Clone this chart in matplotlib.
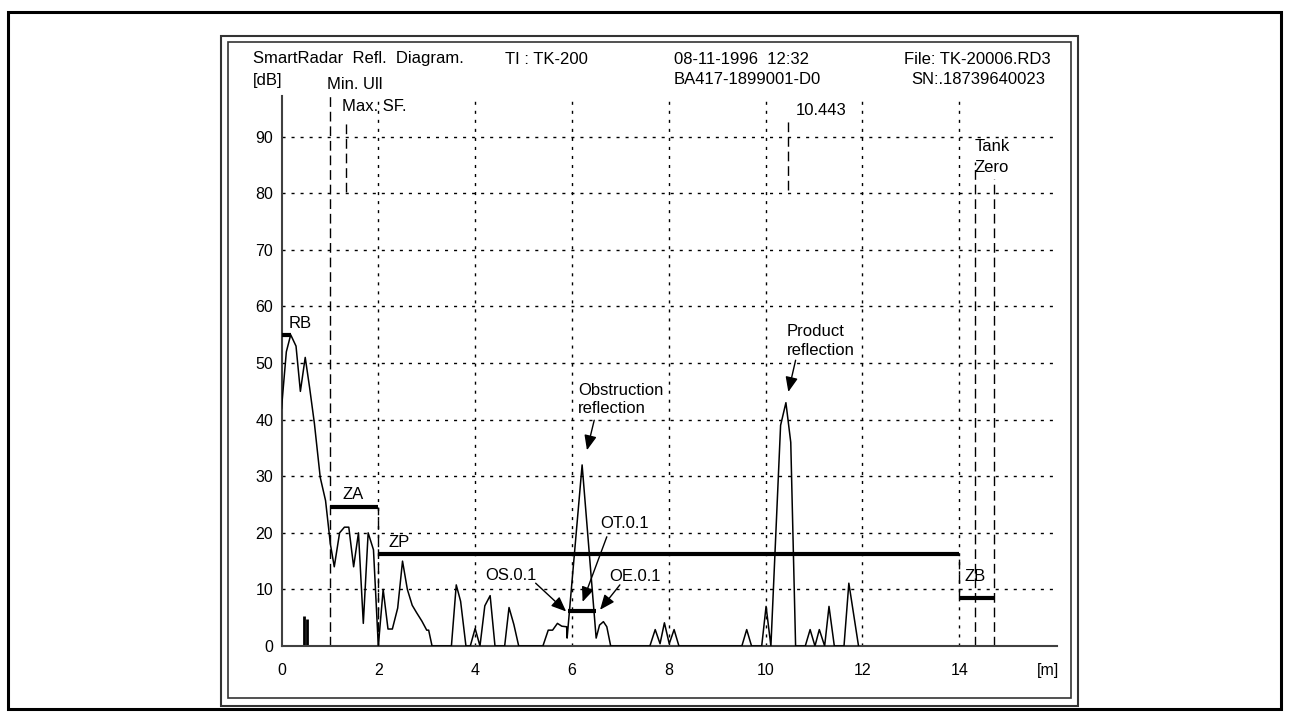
import matplotlib
matplotlib.use('Agg')
import matplotlib.pyplot as plt
from matplotlib.patches import Rectangle

plt.rcParams['font.family'] = ['Liberation Sans', 'DejaVu Sans']

# reflection curve (distance in m, level in dB)
dist = [0, 0.10, 0.19, 0.30, 0.39, 0.49, 0.58, 0.68, 0.80, 0.91, 1.01, 1.09, 1.20, 1.30,
        1.39, 1.49, 1.59, 1.69, 1.79, 1.90, 2.00, 2.10, 2.20, 2.29, 2.40, 2.50, 2.60, 2.70,
        2.79, 2.90, 3.00, 3.04, 3.11, 3.51, 3.61, 3.70, 3.81, 3.90, 4.00, 4.10, 4.20, 4.31,
        4.41, 4.61, 4.70, 4.80, 4.90, 5.40, 5.51, 5.60, 5.70, 5.79, 5.89, 5.90, 6.21, 6.50,
        6.57, 6.65, 6.72, 6.80, 7.61, 7.72, 7.82, 7.91, 8.01, 8.11, 8.21, 9.51, 9.61, 9.71,
        9.92, 10.01, 10.11, 10.31, 10.42, 10.52, 10.62, 10.82, 10.92, 11.02, 11.11, 11.22,
        11.31, 11.42, 11.62, 11.72, 11.92]
level = [42, 52, 55, 53, 45, 51, 45.7, 39.3, 29.8, 25.7, 18, 14, 20, 21,
         21, 14, 20, 4, 20, 17, 0, 10, 3, 3, 6.7, 15, 10, 7.2,
         5.9, 4.4, 2.8, 2.8, 0, 0, 10.8, 7.9, 0, 0, 3.1, 0, 7.1, 8.9,
         0, 0, 6.8, 3.8, 0, 0, 2.8, 2.8, 4.0, 3.5, 3.4, 1.4, 32, 1.4,
         3.7, 4.3, 3.4, 0, 0, 2.9, 0.4, 4.1, 0.4, 2.9, 0, 0, 2.9, 0,
         0, 7, 0, 39, 43, 36, 0, 0, 2.9, 0, 2.9, 0,
         7, 0, 0, 11.1, 0]

# zone bars: name, start, end, level
zone_names = ['RB', 'ZA', 'ZP', 'ZB', 'OT']
zone_start = [0.0, 1.0, 2.0, 14.0, 5.92]
zone_end = [0.2, 2.0, 14.0, 14.71, 6.50]
zone_level = [55, 24.5, 16.3, 8.4, 6.1]

x_ticks = [0, 2, 4, 6, 8, 10, 12, 14, 15.84]
x_labels = ['0', '2', '4', '6', '8', '10', '12', '14', '[m]']
y_ticks = [0, 10, 20, 30, 40, 50, 60, 70, 80, 90]

W, H = 1289, 720
fig = plt.figure(figsize=(W / 100, H / 100), dpi=100)

def px(x, y):
    return x / W, 1 - y / H

# frames
fig.patches.append(Rectangle((8 / W, 1 - 709 / H), 1273 / W, 697 / H, transform=fig.transFigure,
                             fill=False, lw=2.2, ec='black'))
fig.patches.append(Rectangle((221 / W, 1 - 706 / H), 857 / W, 670 / H, transform=fig.transFigure,
                             fill=False, lw=1.5, ec='#333333'))
fig.patches.append(Rectangle((228 / W, 1 - 698 / H), 843 / W, 656 / H, transform=fig.transFigure,
                             fill=False, lw=1.2, ec='#333333'))

ax = fig.add_axes([281.5 / W, 1 - 646 / H, (1057 - 281.5) / W, (646 - 96) / H])
ax.set_xlim(0, 16.02)
ax.set_ylim(0, 97.2)
for s in ['top', 'right']:
    ax.spines[s].set_visible(False)
for s in ['left', 'bottom']:
    ax.spines[s].set_color('#404040')
    ax.spines[s].set_linewidth(1.5)

dots = (0, (2.2, 4.3))
for gx in range(2, 16, 2):
    ax.axvline(gx, color='black', lw=1, ls=dots, zorder=1)
for gy in y_ticks[1:]:
    ax.axhline(gy, color='black', lw=1, ls=dots, zorder=1)

ax.set_xticks(x_ticks)
ax.set_xticklabels(x_labels)
ax.set_yticks(y_ticks)
ax.tick_params(length=0, labelsize=11.5)
ax.tick_params(axis='x', pad=12)
ax.tick_params(axis='y', pad=6)

ax.plot(dist, level, color='black', lw=1.1, zorder=3)
ax.vlines([0.47, 0.52], 0, [5.3, 4.7], color='black', lw=2)

# zone bars
for name, a, b, lv in zip(zone_names, zone_start, zone_end, zone_level):
    ax.hlines(lv, a, b, color='black', lw=3, zorder=4)

dash = (0, (7, 3.5))
ax.vlines(1.0, 0, 97.2, color='black', lw=1, ls=dash)
ax.vlines(2.0, 0, 24.5, color='black', lw=1, ls=dash)
ax.vlines(14.0, 8.4, 16.3, color='black', lw=1, ls=dash)
ax.vlines([14.33, 14.71], 0, [85.6, 82.5], color='black', lw=1, ls=dash)
ax.vlines([1.33, 10.46], [80.3, 80.6], 93, color='black', lw=1, ls=dash)

fs = 12
ax.text(0.14, 57, 'RB', fontsize=fs, va='center')
ax.text(1.48, 26.8, 'ZA', fontsize=fs, va='center', ha='center')
ax.text(2.43, 18.3, 'ZP', fontsize=fs, va='center', ha='center')
ax.text(14.33, 12.2, 'ZB', fontsize=fs, va='center', ha='center')
ax.text(0.93, 99.3, 'Min. Ull', fontsize=fs, va='center', clip_on=False)
ax.text(1.24, 95.4, 'Max. SF.', fontsize=fs, va='center', clip_on=False)
ax.text(10.63, 94.7, '10.443', fontsize=fs, va='center')
ax.text(14.69, 88.3, 'Tank', fontsize=fs, va='center', ha='center')
ax.text(14.67, 84.6, 'Zero', fontsize=fs, va='center', ha='center')

arrow = dict(arrowstyle='-|>,head_length=0.6,head_width=0.25', color='black', lw=1,
             mutation_scale=15, shrinkA=0, shrinkB=0)
ax.text(6.13, 45.2, 'Obstruction', fontsize=fs, va='center')
ax.text(6.13, 42.0, 'reflection', fontsize=fs, va='center')
ax.annotate('', xy=(6.31, 34.6), xytext=(6.46, 39.9), arrowprops=arrow)
ax.text(10.44, 55.5, 'Product', fontsize=fs, va='center')
ax.text(10.44, 52.3, 'reflection', fontsize=fs, va='center')
ax.annotate('', xy=(10.47, 44.9), xytext=(10.62, 50.5), arrowprops=arrow)
ax.text(4.73, 12.4, 'OS.0.1', fontsize=fs, va='center', ha='center')
ax.annotate('', xy=(5.88, 6.1), xytext=(5.25, 11.1), arrowprops=arrow)
ax.text(7.08, 21.7, 'OT.0.1', fontsize=fs, va='center', ha='center')
ax.annotate('', xy=(6.22, 7.8), xytext=(6.72, 19.3), arrowprops=arrow)
ax.text(7.30, 12.2, 'OE.0.1', fontsize=fs, va='center', ha='center')
ax.annotate('', xy=(6.58, 6.4), xytext=(6.99, 10.8), arrowprops=arrow)

# header
hs = 12
fig.text(*px(253, 59), 'SmartRadar  Refl.  Diagram.', fontsize=hs, va='center')
fig.text(*px(505, 59), 'TI : TK-200', fontsize=hs, va='center')
fig.text(*px(674, 59), '08-11-1996  12:32', fontsize=hs, va='center')
fig.text(*px(904, 59), 'File: TK-20006.RD3', fontsize=hs, va='center')
fig.text(*px(253, 80), '[dB]', fontsize=hs, va='center')
fig.text(*px(674, 80), 'BA417-1899001-D0', fontsize=hs, va='center')
fig.text(*px(911, 80), 'SN:.18739640023', fontsize=hs, va='center')

fig.savefig('out.png', dpi=100)
